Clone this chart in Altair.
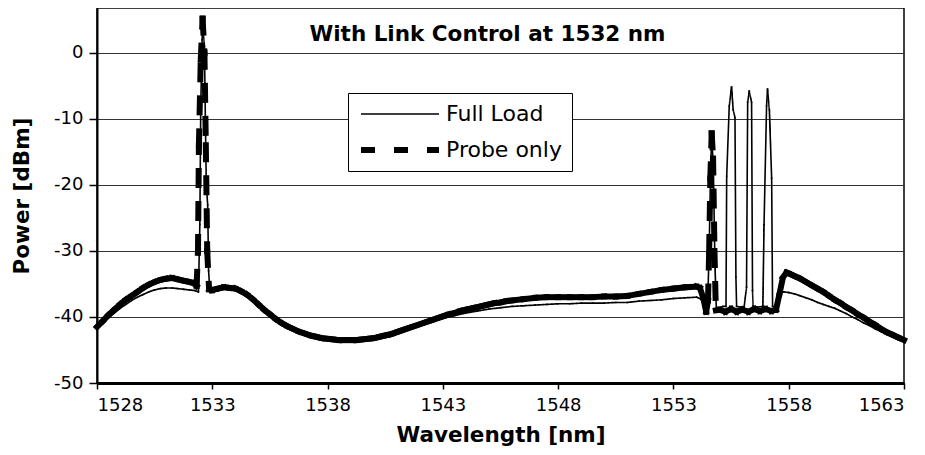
import altair as alt
import pandas as pd

# ---------------- data ----------------
series_names = ["Full Load", "Probe only"]

probe_wl = [1528.0, 1528.25, 1528.5, 1528.75, 1529.0, 1529.25, 1529.5, 1529.75, 1530.0, 1530.25,
            1530.5, 1530.75, 1531.0, 1531.25, 1531.5, 1531.75, 1532.0, 1532.2, 1532.32,
            1532.38, 1532.42, 1532.50, 1532.58, 1532.66, 1532.72, 1532.78, 1532.86,
            1533.0, 1533.25, 1533.5, 1533.75, 1534.0, 1534.25, 1534.5, 1534.75, 1535.0, 1535.25,
            1535.5, 1535.75, 1536.0, 1536.25, 1536.5, 1536.75, 1537.0, 1537.25, 1537.5, 1537.75,
            1538.0, 1538.25, 1538.5, 1538.75, 1539.0, 1539.25, 1539.5, 1539.75, 1540.0, 1540.25,
            1540.5, 1540.75, 1541.0, 1541.25, 1541.5, 1541.75, 1542.0, 1542.25, 1542.5, 1542.75,
            1543.0, 1543.25, 1543.5, 1543.75, 1544.0, 1544.25, 1544.5, 1544.75, 1545.0, 1545.25,
            1545.5, 1545.75, 1546.0, 1546.5, 1547.0, 1547.5, 1548.0, 1548.5, 1549.0, 1549.5,
            1550.0, 1550.5, 1551.0, 1551.5, 1552.0, 1552.5, 1553.0, 1553.5, 1554.0, 1554.15,
            1554.3, 1554.42, 1554.5, 1554.55, 1554.6, 1554.66, 1554.72, 1554.78, 1554.84,
            1555.0, 1555.25, 1555.5, 1555.75, 1556.0, 1556.25, 1556.5, 1556.75, 1557.0, 1557.25,
            1557.45, 1557.6, 1557.75, 1557.9, 1558.0, 1558.25, 1558.5, 1558.75, 1559.0, 1559.25,
            1559.5, 1559.75, 1560.0, 1560.25, 1560.5, 1560.75, 1561.0, 1561.25, 1561.5, 1561.75,
            1562.0, 1562.25, 1562.5, 1562.75, 1563.0]
probe_db = [-41.5, -40.6, -39.7, -38.9, -38.1, -37.4, -36.8, -36.2, -35.6, -35.1,
            -34.7, -34.4, -34.2, -34.1, -34.3, -34.5, -34.7, -34.9, -35.3,
            -30.0, -14.0, -1.0, 5.2, 0.0, -14.0, -30.0, -35.8,
            -35.9, -35.7, -35.5, -35.6, -35.7, -36.1, -36.6, -37.3, -38.1, -38.9,
            -39.6, -40.3, -40.9, -41.4, -41.8, -42.2, -42.5, -42.8, -43.0, -43.2,
            -43.3, -43.4, -43.5, -43.5, -43.5, -43.5, -43.4, -43.3, -43.2, -43.0,
            -42.8, -42.6, -42.3, -42.0, -41.7, -41.4, -41.1, -40.8, -40.5, -40.2,
            -39.9, -39.6, -39.4, -39.1, -38.9, -38.7, -38.5, -38.3, -38.1, -37.9,
            -37.8, -37.6, -37.5, -37.3, -37.1, -37.0, -37.0, -37.0, -37.0, -37.0,
            -36.9, -36.9, -36.8, -36.5, -36.2, -35.9, -35.7, -35.5, -35.4, -35.6,
            -37.2, -39.2, -37.5, -30.0, -19.0, -12.2, -16.0, -30.0, -39.0,
            -38.9, -39.2, -38.8, -39.2, -38.9, -39.2, -38.8, -39.1, -38.8, -39.1,
            -38.9, -36.5, -34.0, -33.3, -33.4, -33.8, -34.2, -34.7, -35.2, -35.7,
            -36.2, -36.8, -37.4, -37.9, -38.5, -39.0, -39.6, -40.1, -40.7, -41.2,
            -41.8, -42.3, -42.7, -43.1, -43.5]

full_wl = [1528.0, 1528.25, 1528.5, 1528.75, 1529.0, 1529.25, 1529.5, 1529.75, 1530.0, 1530.25,
           1530.5, 1530.75, 1531.0, 1531.25, 1531.5, 1531.75, 1532.0, 1532.25, 1532.4,
           1532.46, 1532.5, 1532.56, 1532.6, 1532.66, 1532.7, 1532.74, 1532.8, 1532.84, 1532.9,
           1533.0, 1533.25, 1533.5, 1533.75, 1534.0, 1534.25, 1534.5, 1534.75, 1535.0, 1535.25,
           1535.5, 1535.75, 1536.0, 1536.5, 1537.0, 1537.5, 1538.0, 1538.5, 1539.0, 1539.5,
           1540.0, 1540.5, 1541.0, 1541.5, 1542.0, 1542.5, 1543.0, 1543.5, 1544.0, 1544.5,
           1545.0, 1545.5, 1546.0, 1546.5, 1547.0, 1547.5, 1548.0, 1548.5, 1549.0, 1549.5,
           1550.0, 1550.5, 1551.0, 1551.5, 1552.0, 1552.5, 1553.0, 1553.5, 1554.0, 1554.2,
           1554.35, 1554.48, 1554.56, 1554.62, 1554.67, 1554.73, 1554.8, 1554.86,
           1555.0, 1555.15, 1555.28, 1555.31, 1555.42, 1555.52, 1555.59, 1555.67, 1555.71, 1555.74,
           1555.9, 1556.07, 1556.17, 1556.22, 1556.29, 1556.39, 1556.43, 1556.46,
           1556.65, 1556.88, 1556.93, 1557.04, 1557.08, 1557.16, 1557.26, 1557.30,
           1557.45, 1557.6, 1557.8, 1558.0, 1558.25, 1558.5, 1558.75, 1559.0, 1559.25, 1559.5,
           1559.75, 1560.0, 1560.25, 1560.5, 1560.75, 1561.0, 1561.25, 1561.5, 1561.75, 1562.0,
           1562.25, 1562.5, 1562.75, 1563.0]
full_db = [-41.8, -40.9, -40.1, -39.4, -38.7, -38.1, -37.5, -37.0, -36.6, -36.2,
           -35.9, -35.7, -35.6, -35.6, -35.7, -35.8, -35.9, -36.0, -36.2,
           -26.0, -8.0, 2.0, 3.8, 1.0, -10.0, -20.0, -23.0, -33.0, -36.3,
           -36.3, -36.0, -35.8, -35.8, -35.9, -36.3, -36.8, -37.5, -38.3, -39.0,
           -39.7, -40.4, -41.0, -41.9, -42.6, -43.1, -43.4, -43.6, -43.6, -43.5,
           -43.3, -42.9, -42.4, -41.8, -41.2, -40.7, -40.2, -39.8, -39.4, -39.1,
           -38.8, -38.6, -38.4, -38.3, -38.2, -38.1, -38.0, -38.0, -37.9, -37.9,
           -37.9, -37.8, -37.8, -37.6, -37.5, -37.4, -37.2, -37.1, -37.0, -37.3,
           -38.6, -38.9, -28.0, -16.0, -13.5, -17.0, -32.0, -38.7,
           -38.6, -38.4, -38.4, -18.7, -8.1, -5.2, -8.6, -9.8, -33.9, -38.4,
           -38.5, -38.4, -35.5, -7.5, -5.8, -7.5, -36.0, -38.4,
           -38.5, -38.4, -26.0, -8.0, -5.5, -8.6, -19.0, -38.4,
           -38.5, -36.4, -36.2, -36.3, -36.5, -36.8, -37.1, -37.4, -37.8, -38.1,
           -38.4, -38.7, -39.1, -39.5, -40.0, -40.4, -40.9, -41.3, -41.8, -42.2,
           -42.6, -42.9, -43.2, -43.6]

x_ticks = [1528, 1533, 1538, 1543, 1548, 1553, 1558, 1563]
y_ticks = [-50, -40, -30, -20, -10, 0]


# each series is drawn segment by segment (as the original spreadsheet did),
# so the dash pattern restarts on every segment
def segments(name, wl, db):
    return [{"series": name, "x": wl[i], "y": db[i], "x2": wl[i + 1], "y2": db[i + 1]}
            for i in range(len(wl) - 1)]


df = pd.DataFrame(segments("Probe only", probe_wl, probe_db) +
                  segments("Full Load", full_wl, full_db))

FONT = "DejaVu Sans"

legend = alt.Legend(
    title=None, orient="none", legendX=251, legendY=85,
    symbolType="stroke", symbolSize=78 * 78, clipHeight=22,
    symbolStrokeColor="black",
    labelFont=FONT, labelFontSize=22, labelColor="black", labelOffset=4, labelLimit=0,
    strokeColor="black", fillColor="white", padding=10, rowPadding=14, cornerRadius=0,
)

chart = alt.Chart(df).mark_rule(color="black", strokeCap="square").encode(
    x=alt.X("x:Q",
            scale=alt.Scale(domain=[1528, 1563], nice=False, zero=False),
            axis=alt.Axis(values=x_ticks, title="Wavelength [nm]", labelExpr="toString(datum.value)",
                          grid=False, domainWidth=3, tickSize=6, labelPadding=7, titlePadding=10)),
    x2="x2:Q",
    y=alt.Y("y:Q",
            scale=alt.Scale(domain=[-50, 6.8], nice=False, zero=False),
            axis=alt.Axis(values=y_ticks, title="Power [dBm]", labelExpr="toString(datum.value)",
                          grid=True, gridColor="#333333", gridWidth=1,
                          domainWidth=2, tickSize=8, labelPadding=6, titlePadding=20)),
    y2="y2:Q",
    strokeDash=alt.StrokeDash("series:N",
                              scale=alt.Scale(domain=series_names, range=[[1, 0], [14, 19]]),
                              legend=legend),
    strokeWidth=alt.StrokeWidth("series:N",
                                scale=alt.Scale(domain=series_names, range=[1.6, 6]),
                                legend=legend),
).properties(
    width=807, height=375,
    autosize="none",
    padding={"left": 89, "top": 0, "right": 13, "bottom": 64},
    background="white",
    title=alt.TitleParams("With Link Control at 1532 nm", font=FONT, fontSize=21.5,
                          fontWeight="bold", color="black", anchor="middle", frame="group",
                          baseline="middle", offset=0, dy=48, dx=-13),
).configure_axis(
    domainColor="black", tickColor="black", tickWidth=1.5,
    labelFont=FONT, labelFontSize=18, labelColor="black",
    titleFont=FONT, titleFontSize=21.5, titleFontWeight="bold", titleColor="black",
).configure_view(
    stroke="black", strokeWidth=1.5,
)

chart.save("out.html", embed_options={"renderer": "svg", "actions": False})
